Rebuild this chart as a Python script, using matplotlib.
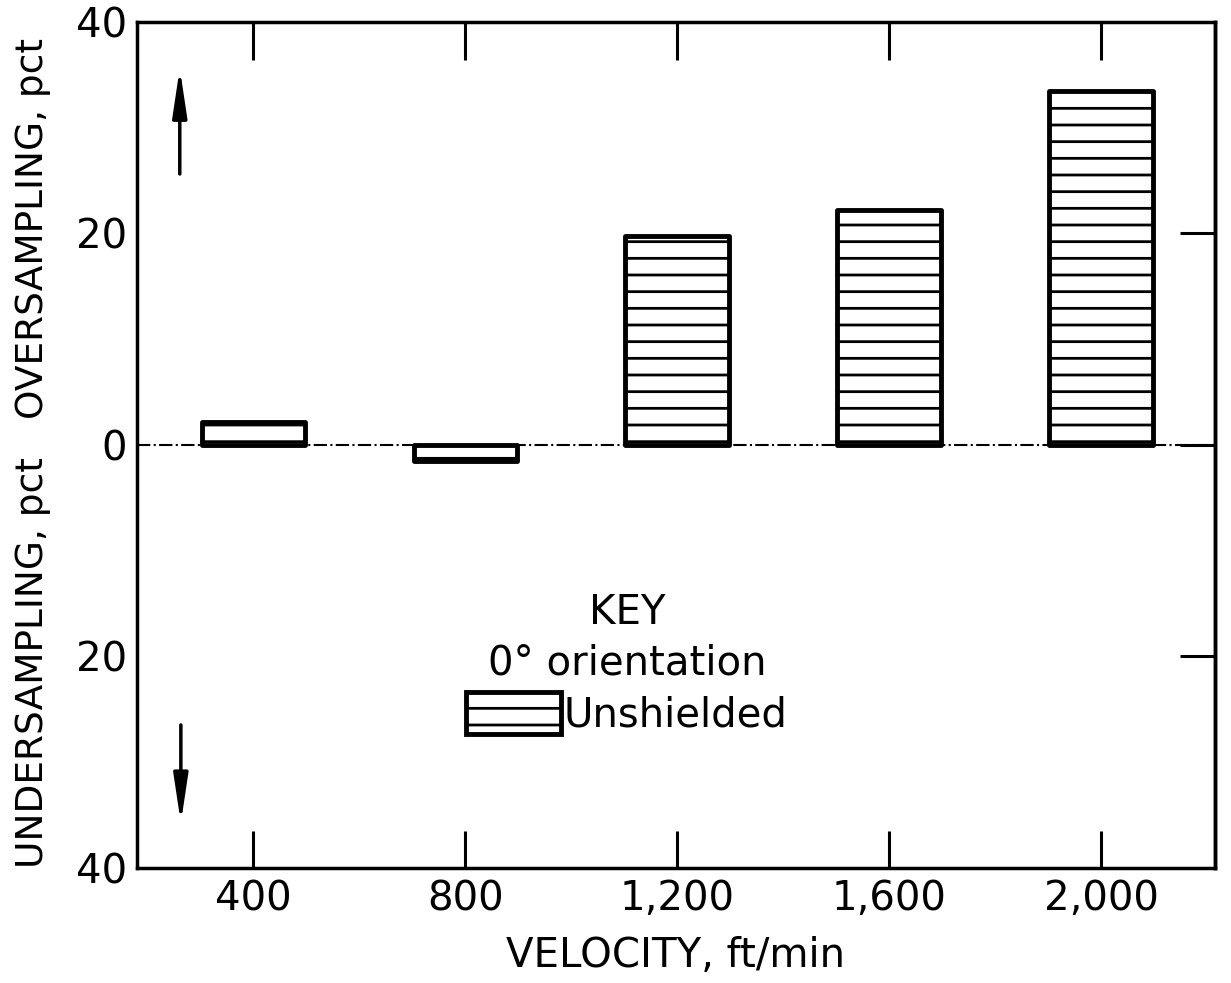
import numpy as np
import matplotlib
matplotlib.use('Agg')
import matplotlib.pyplot as plt
from matplotlib.patches import Patch

velocity = [400, 800, 1200, 1600, 2000]
velocity_labels = ['400', '800', '1,200', '1,600', '2,000']
sampling = [2.2, -1.5, 19.7, 22.2, 33.4]
yticks = [-40, -20, 0, 20, 40]
ytick_labels = ['40', '20', '0', '20', '40']

plt.rcParams.update({
    'font.family': 'DejaVu Sans',
    'font.size': 29,
    'hatch.linewidth': 2.0,
    'hatch.color': 'black',
})

fig = plt.figure(figsize=(12.31, 9.83), dpi=100)
ax = fig.add_axes([0.111, 0.117, 0.876, 0.861])

ax.bar(velocity, sampling, width=195, color='white', edgecolor='black',
       linewidth=3.5, hatch='-', zorder=3, joinstyle='round')

ax.axhline(0, color='black', linestyle='-.', linewidth=1.5, zorder=1)

ax.set_xlim(180, 2215)
ax.set_ylim(-40, 40)
ax.set_xticks(velocity)
ax.set_xticklabels(velocity_labels)
ax.set_yticks(yticks)
ax.set_yticklabels(ytick_labels)

ax.tick_params(axis='x', direction='in', length=27, width=2.2, pad=8,
               top=True, bottom=True)
ax.tick_params(axis='y', direction='in', length=0, width=2.2, pad=7,
               left=True, right=False)
for s in ax.spines.values():
    s.set_linewidth(2.5)

# right-hand ticks only at the inner values
ax2 = ax.twinx()
ax2.set_ylim(-40, 40)
ax2.set_yticks([-20, 0, 20])
ax2.tick_params(axis='y', direction='in', length=25, width=2.2,
                labelright=False)
ax2.spines['right'].set_linewidth(2.5)

ax.set_xlabel('VELOCITY, ft/min', labelpad=12)

fig.text(0.027, 0.326, 'UNDERSAMPLING, pct', rotation=90,
         ha='center', va='center', fontsize=27)
fig.text(0.027, 0.768, 'OVERSAMPLING, pct', rotation=90,
         ha='center', va='center', fontsize=27)

# direction arrows
arrow = dict(arrowstyle='-|>,head_length=1.0,head_width=0.15',
             color='black', lw=2.5, shrinkA=0, shrinkB=0)
ax.annotate('', xy=(0.04, 0.945), xytext=(0.04, 0.82),
            xycoords='axes fraction', arrowprops=arrow)
ax.annotate('', xy=(0.041, 0.053), xytext=(0.041, 0.169),
            xycoords='axes fraction', arrowprops=arrow)

key = Patch(facecolor='white', edgecolor='black', linewidth=3.5, hatch='-')
leg = ax.legend([key], ['Unshielded'], title='KEY\n0\u00b0 orientation',
                loc='center', bbox_to_anchor=(0.4545, 0.241),
                frameon=False, handlelength=2.35, handleheight=1.25,
                handletextpad=0.05, borderpad=0.1, labelspacing=0.2,
                fontsize=29, title_fontsize=29, alignment='center')
leg.get_title().set_linespacing(1.35)
leg.get_title().set_multialignment('center')

fig.savefig('out.png', dpi=100)
